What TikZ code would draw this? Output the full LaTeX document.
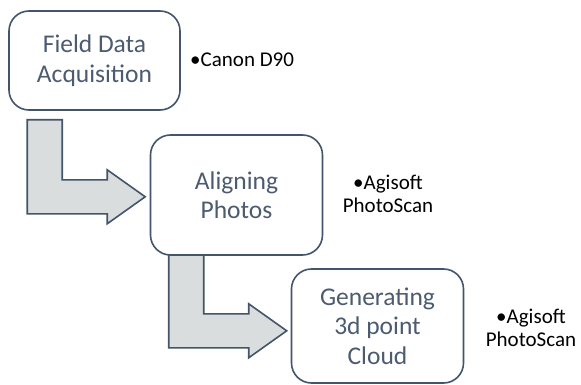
\documentclass[tikz,border=0pt]{standalone}
\usepackage{fontspec}
\setmainfont{Carlito}
\usepackage{tikz}
\usetikzlibrary{positioning,calc,backgrounds}
\definecolor{Slate}{HTML}{44546A}
\definecolor{SlateText}{HTML}{4D5B70}
\definecolor{ArrowFill}{HTML}{DADDDD}

\newcommand{\bentarrow}[1]{% #1 = top left corner of the stem
  \draw[bendarrow] #1 -- ++(35,0) -- ++(0,60) -- ++(45,0) -- ++(0,-10)
    -- ++(38,27) -- ++(-38,27) -- ++(0,-10) -- ++(-80,0) -- cycle;}

\begin{document}
\begin{tikzpicture}[x=1pt,y=-1pt,
  stepbox/.style={draw=Slate,line width=1.6pt,rounded corners=20pt,fill=white,
    inner sep=0pt,align=center,text=SlateText,
    font=\fontsize{25.5}{29.5}\selectfont},
  bendarrow/.style={draw=Slate,line width=1.6pt,fill=ArrowFill,line join=miter},
  tool/.style={align=center,inner sep=0pt,font=\fontsize{21}{22.5}\selectfont}]
  \useasboundingbox (0,0) rectangle (581,385);
  % process steps
  \node[stepbox,minimum width=171pt,minimum height=99pt] (fda) at (94.5,60.5) {Field Data\\Acquisition};
  \node[stepbox,minimum width=172pt,minimum height=120pt] (align) at (236.5,195) {Aligning\\Photos};
  \node[stepbox,minimum width=172pt,minimum height=114pt] (cloud) at (377.5,326) {Generating\\3d point\\Cloud};
  % software used
  \node[tool,anchor=west] (cam) at (190,60) {•Canon D90};
  \node[tool] (ps1) at (388,194) {•Agisoft\\PhotoScan};
  \node[tool] (ps2) at (531,328) {•Agisoft\\PhotoScan};
  % arrows between steps
  \begin{scope}[on background layer]
    \bentarrow{($(fda.south west)+(19,9)$)}
    \bentarrow{($(align.south west)+(19,-2)$)}
  \end{scope}
\end{tikzpicture}
\end{document}
